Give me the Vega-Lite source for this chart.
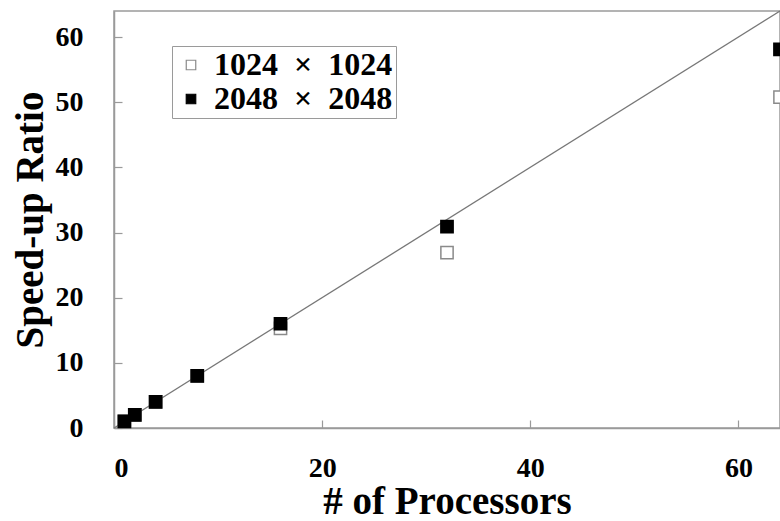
{
  "$schema": "https://vega.github.io/schema/vega-lite/v6.json",
  "autosize": "none",
  "width": 666,
  "height": 417,
  "padding": {"left": 114, "top": 11, "right": 0, "bottom": 93},
  "background": "white",
  "config": {
    "view": {"stroke": "#9a9a9a", "strokeWidth": 1.5},
    "font": "Liberation Serif",
    "axis": {
      "grid": false,
      "domainColor": "#9a9a9a",
      "domainWidth": 1.5,
      "tickColor": "#9a9a9a",
      "tickWidth": 1.2,
      "tickSize": -8,
      "labelFont": "Liberation Serif",
      "labelFontWeight": "bold",
      "labelFontSize": 28,
      "labelColor": "black",
      "titleFont": "Liberation Serif",
      "titleFontWeight": "bold",
      "titleFontSize": 39,
      "titleColor": "black"
    }
  },
  "datasets": {
    "ideal": [{"p": 0, "s": 0}, {"p": 64, "s": 64}],
    "pts": [
      {"p": 1, "s": 1, "series": "1024\u00a0\u00a0×\u00a0\u00a01024"},
      {"p": 2, "s": 2, "series": "1024\u00a0\u00a0×\u00a0\u00a01024"},
      {"p": 4, "s": 4, "series": "1024\u00a0\u00a0×\u00a0\u00a01024"},
      {"p": 8, "s": 8, "series": "1024\u00a0\u00a0×\u00a0\u00a01024"},
      {"p": 16, "s": 15.3, "series": "1024\u00a0\u00a0×\u00a0\u00a01024"},
      {"p": 32, "s": 26.9, "series": "1024\u00a0\u00a0×\u00a0\u00a01024"},
      {"p": 64, "s": 50.8, "series": "1024\u00a0\u00a0×\u00a0\u00a01024"},
      {"p": 1, "s": 1, "series": "2048\u00a0\u00a0×\u00a0\u00a02048"},
      {"p": 2, "s": 2, "series": "2048\u00a0\u00a0×\u00a0\u00a02048"},
      {"p": 4, "s": 4, "series": "2048\u00a0\u00a0×\u00a0\u00a02048"},
      {"p": 8, "s": 8, "series": "2048\u00a0\u00a0×\u00a0\u00a02048"},
      {"p": 16, "s": 16, "series": "2048\u00a0\u00a0×\u00a0\u00a02048"},
      {"p": 32, "s": 30.9, "series": "2048\u00a0\u00a0×\u00a0\u00a02048"},
      {"p": 64, "s": 58.1, "series": "2048\u00a0\u00a0×\u00a0\u00a02048"}
    ]
  },
  "layer": [
    {
      "data": {"name": "ideal"},
      "mark": {"type": "line", "color": "#777777", "strokeWidth": 1.3},
      "encoding": {
        "x": {"field": "p", "type": "quantitative"},
        "y": {"field": "s", "type": "quantitative"}
      }
    },
    {
      "data": {"name": "pts"},
      "mark": {"type": "square", "size": 150, "opacity": 1, "strokeWidth": 1.5},
      "encoding": {
        "x": {
          "field": "p", "type": "quantitative",
          "scale": {"domain": [0, 64], "nice": false},
          "axis": {"values": [0, 20, 40, 60], "title": "# of Processors", "labelPadding": 34, "titlePadding": 0}
        },
        "y": {
          "field": "s", "type": "quantitative",
          "scale": {"domain": [0, 64], "nice": false},
          "axis": {"values": [0, 10, 20, 30, 40, 50, 60], "title": "Speed-up Ratio", "labelPadding": 39, "titlePadding": 5}
        },
        "fill": {
          "field": "series", "type": "nominal",
          "scale": {"range": ["white", "black"]},
          "legend": {
            "title": null, "orient": "none", "legendX": 58, "legendY": 35,
            "strokeColor": "#9a9a9a", "padding": 3,
            "labelFont": "Liberation Serif", "labelFontWeight": "bold", "labelFontSize": 32,
            "labelColor": "black", "labelLimit": 400, "labelOffset": 7,
            "symbolSize": 90, "symbolType": "square", "symbolStrokeWidth": 1.2,
            "rowPadding": 2
          }
        },
        "stroke": {
          "field": "series", "type": "nominal",
          "scale": {"range": ["#8a8a8a", "black"]},
          "legend": {
            "title": null, "orient": "none", "legendX": 58, "legendY": 35,
            "strokeColor": "#9a9a9a", "padding": 3,
            "labelFont": "Liberation Serif", "labelFontWeight": "bold", "labelFontSize": 32,
            "labelColor": "black", "labelLimit": 400, "labelOffset": 7,
            "symbolSize": 90, "symbolType": "square", "symbolStrokeWidth": 1.2,
            "rowPadding": 2
          }
        }
      }
    }
  ]
}
